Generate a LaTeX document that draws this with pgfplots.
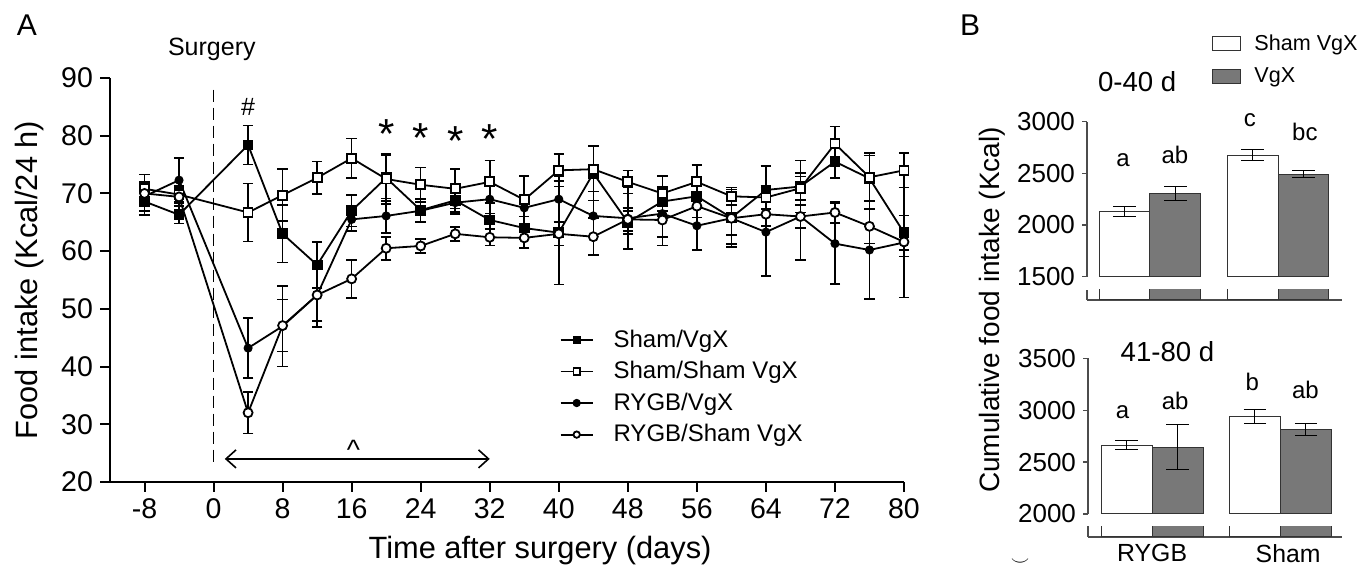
\documentclass[border=0pt]{standalone}
\usepackage{fontspec}
\setmainfont{Liberation Sans}
\usepackage{pgfplots}
\pgfplotsset{compat=1.18}
\usetikzlibrary{arrows.meta}

\newcommand{\fs}[1]{\fontsize{#1}{#1}\selectfont}
\definecolor{barg}{RGB}{120,120,120}

\pgfplotsset{
  eb/.style={error bars/y dir=both, error bars/y explicit,
    error bars/error bar style={line width=0.8pt,black},
    error bars/error mark options={rotate=90,mark size=2.6pt,line width=0.8pt,black}},
  ebB/.style={error bars/y dir=both, error bars/y explicit,
    error bars/error bar style={line width=0.5pt,black},
    error bars/error mark options={rotate=90,mark size=5.6pt,line width=0.5pt,black}},
  boxleg/.style={legend image code/.code={\draw[##1] (0pt,-3.5pt) rectangle (14pt,3.5pt);}},
}

\begin{document}
\begin{tikzpicture}
\useasboundingbox (0,0) rectangle (685.5pt,288pt);

% ---------------- panel A ----------------
\begin{axis}[
  at={(55pt,47pt)}, anchor=south west,
  scale only axis, width=397pt, height=202pt,
  xmin=-12, xmax=80, ymin=20, ymax=90,
  axis lines=left, axis line style={-,line width=1pt},
  clip=false,
  xtick={-8,0,8,16,24,32,40,48,56,64,72,80},
  xticklabels={-8,0,8,16,24,32,40,48,56,64,72,80},
  ytick={20,30,40,50,60,70,80,90},
  tick align=outside, major tick length=5pt,
  tick style={line width=1pt,black},
  /pgf/number format/assume math mode=true,
  ticklabel style={font=\fs{14.25}},
  xlabel={Time after surgery (days)},
  every axis x label/.style={at={(axis description cs:0.5416,0)}, anchor=center, yshift=-34.5pt, font=\fs{15.4}},
  legend style={at={(0.566,0.388)}, anchor=north west, draw=none, fill=none,
    font=\fs{12}, row sep=1.6pt, column sep=8pt, inner sep=0pt},
  legend cell align=left,
  legend image code/.code={\draw[mark repeat=2,mark phase=2,#1,mark size=1.6pt] plot coordinates {(0pt,0pt)(8pt,0pt)(16pt,0pt)};},
]
\draw[line width=0.9pt, dash pattern=on 6pt off 3pt] (axis cs:0,88) -- (axis cs:0,23);
\node[font=\fs{12.5}] at (axis cs:-0.2,94.9) {Surgery};
\node[font=\fs{12.5}] at (axis cs:4,85) {\#};
\node[font=\fs{21}] at (axis cs:20,80.3) {*};
\node[font=\fs{21}] at (axis cs:24,79.6) {*};
\node[font=\fs{21}] at (axis cs:28,79.0) {*};
\node[font=\fs{21}] at (axis cs:32,79.4) {*};
\draw[line width=0.8pt, {Straight Barb[length=5pt,width=9pt]}-{Straight Barb[length=5pt,width=9pt]}]
  (axis cs:1.3,24) -- (axis cs:32,24);
\node[font=\fs{14}] at (axis cs:16.2,25.6) {\textasciicircum};

\addplot[black, line width=0.9pt, mark=square*, mark size=2.25pt, mark options={fill=black,solid}, eb]
coordinates {
(-8,68.6) +- (0,2.3) (-4,66.3) +- (0,1.5) (4,78.4) +- (0,3.4) (8,63.0) +- (0,5.0)
(12,57.6) +- (0,4.0) (16,67.0) +- (0,2.7) (20,72.7) +- (0,4.0) (24,67.1) +- (0,2.0)
(28,68.8) +- (0,2.0) (32,65.4) +- (0,3.0) (36,64.0) +- (0,2.0) (40,63.2) +- (0,9.0)
(44,73.5) +- (0,4.7) (48,65.0) +- (0,2.0) (52,68.6) +- (0,2.5) (56,69.5) +- (0,2.0)
(60,65.8) +- (0,3.0) (64,70.6) +- (0,4.2) (68,71.2) +- (0,4.5) (72,75.5) +- (0,2.8)
(76,72.6) +- (0,4.0) (80,63.2) +- (0,3.0)
};
\addlegendentry{Sham/VgX}
\addplot[black, line width=0.9pt, mark=square*, mark size=2.25pt, mark options={fill=white,solid}, eb]
coordinates {
(-8,70.8) +- (0,2.5) (-4,69.8) +- (0,1.5) (4,66.7) +- (0,5.0) (8,69.7) +- (0,4.5)
(12,72.7) +- (0,2.8) (16,76.1) +- (0,3.4) (20,72.5) +- (0,4.3) (24,71.5) +- (0,3.0)
(28,70.8) +- (0,3.4) (32,72.0) +- (0,3.7) (36,68.9) +- (0,4.1) (40,74.0) +- (0,2.8)
(44,74.2) +- (0,3.9) (48,72.0) +- (0,2.0) (52,70.0) +- (0,3.0) (56,72.0) +- (0,2.9)
(60,69.5) +- (0,1.5) (64,69.3) +- (0,2.0) (68,70.9) +- (0,2.0) (72,78.6) +- (0,3.0)
(76,72.8) +- (0,4.2) (80,74.0) +- (0,3.0)
};
\addlegendentry{Sham/Sham VgX}
\addplot[black, line width=0.9pt, mark=*, mark size=1.8pt, mark options={fill=black,solid}, eb]
coordinates {
(-8,69.5) +- (0,2.5) (-4,72.3) +- (0,3.8) (4,43.2) +- (0,5.2) (8,47.0) +- (0,7.0)
(12,52.4) +- (0,5.5) (16,65.5) +- (0,2.0) (20,66.1) +- (0,3.0) (24,67.0) +- (0,2.0)
(28,68.4) +- (0,2.0) (32,69.0) +- (0,2.5) (36,67.5) +- (0,5.5) (40,69.0) +- (0,4.0)
(44,66.1) +- (0,6.8) (48,65.7) +- (0,5.3) (52,66.5) +- (0,4.0) (56,64.4) +- (0,4.2)
(60,65.7) +- (0,4.5) (64,63.3) +- (0,7.6) (68,66.0) +- (0,7.5) (72,61.3) +- (0,7.0)
(76,60.2) +- (0,8.5) (80,61.5) +- (0,9.5)
};
\addlegendentry{RYGB/VgX}
\addplot[black, line width=0.9pt, mark=*, mark size=2.25pt, mark options={fill=white,solid}, eb]
coordinates {
(-8,70.0) +- (0,2.0) (-4,69.4) +- (0,1.5) (4,32.0) +- (0,3.6) (8,47.1) +- (0,4.5)
(12,52.4) +- (0,4.5) (16,55.2) +- (0,3.3) (20,60.5) +- (0,2.0) (24,60.9) +- (0,1.2)
(28,63.0) +- (0,1.2) (32,62.4) +- (0,1.4) (36,62.3) +- (0,1.8) (40,63.0) +- (0,2.0)
(44,62.5) +- (0,3.2) (48,65.5) +- (0,2.0) (52,65.4) +- (0,4.4) (56,67.8) +- (0,2.0)
(60,65.7) +- (0,5.0) (64,66.4) +- (0,2.0) (68,66.0) +- (0,2.0) (72,66.7) +- (0,1.8)
(76,64.3) +- (0,3.0) (80,61.6) +- (0,2.5)
};
\addlegendentry{RYGB/Sham VgX}
\end{axis}

% ---------------- panel B, top ----------------
\begin{axis}[
  at={(543.5pt,149.65pt)}, anchor=south west,
  scale only axis, width=127.5pt, height=77.5pt,
  xmin=-0.492, xmax=1.5, ymin=1500, ymax=3000,
  axis y line=left, y axis line style={-,line width=0.6pt,black!70},
  hide x axis,
  ytick={1500,2000,2500,3000},
  tick align=outside, major tick length=2.5pt,
  tick style={line width=0.6pt,black!70},
  scaled y ticks=false, /pgf/number format/1000 sep={},
  /pgf/number format/assume math mode=true,
  ticklabel style={font=\fs{13}},
  ybar, bar width=0.398,
  clip mode=individual,
  legend style={at={(0.49,1.59)}, anchor=north west, draw=none, fill=none,
    font=\fs{10.8}, row sep=3pt, column sep=4.5pt, inner sep=0pt},
  legend cell align=left,
]
\addplot[fill=white, draw=black!80, line width=0.5pt, bar shift=-0.199, ebB, boxleg]
coordinates {(0,2130) +- (0,48) (1,2675) +- (0,52)};
\addlegendentry{Sham VgX}
\addplot[fill=barg, draw=black!80, line width=0.5pt, bar shift=0.199, ebB, boxleg]
coordinates {(0,2307) +- (0,65) (1,2491) +- (0,35)};
\addlegendentry{VgX}
\node[font=\fs{13.8}, anchor=base] at (axis cs:-0.1,3290) {0-40 d};
\node[font=\fs{12}, anchor=base] at (axis cs:-0.21,2565) {a};
\node[font=\fs{12}, anchor=base] at (axis cs:0.195,2591) {ab};
\node[font=\fs{12}, anchor=base] at (axis cs:0.78,2952) {c};
\node[font=\fs{12}, anchor=base] at (axis cs:1.21,2816) {bc};
\end{axis}

% stub under top panel
\begin{axis}[
  at={(543.5pt,138pt)}, anchor=south west,
  scale only axis, width=127.5pt, height=5pt,
  xmin=-0.492, xmax=1.5, ymin=0, ymax=1,
  axis lines=left, axis line style={-,line width=0.6pt,black!70},
  xtick=\empty, ytick=\empty,
  ybar, bar width=0.398,
]
\addplot[fill=white, draw=black!80, line width=0.5pt, bar shift=-0.199] coordinates {(0,2) (1,2)};
\addplot[fill=barg, draw=black!80, line width=0.5pt, bar shift=0.199] coordinates {(0,2) (1,2)};
\end{axis}

% ---------------- panel B, bottom ----------------
\begin{axis}[
  at={(544pt,31pt)}, anchor=south west,
  scale only axis, width=127pt, height=77.85pt,
  xmin=-0.5, xmax=1.48, ymin=2000, ymax=3500,
  axis y line=left, y axis line style={-,line width=0.6pt,black!70},
  hide x axis,
  ytick={2000,2500,3000,3500},
  tick align=outside, major tick length=2.5pt,
  tick style={line width=0.6pt,black!70},
  scaled y ticks=false, /pgf/number format/1000 sep={},
  /pgf/number format/assume math mode=true,
  ticklabel style={font=\fs{13}},
  ybar, bar width=0.398,
  clip mode=individual,
]
\addplot[fill=white, draw=black!80, line width=0.5pt, bar shift=-0.199, ebB]
coordinates {(0,2662) +- (0,45) (1,2937) +- (0,65)};
\addplot[fill=barg, draw=black!80, line width=0.5pt, bar shift=0.199, ebB]
coordinates {(0,2643) +- (0,215) (1,2816) +- (0,58)};
\node[font=\fs{13.8}, anchor=base] at (axis cs:0.12,3467) {41-80 d};
\node[font=\fs{12}, anchor=base] at (axis cs:-0.23,2922) {a};
\node[font=\fs{12}, anchor=base] at (axis cs:0.18,3002) {ab};
\node[font=\fs{12}, anchor=base] at (axis cs:0.78,3185) {b};
\node[font=\fs{12}, anchor=base] at (axis cs:1.195,3108) {ab};
\end{axis}

% stub under bottom panel
\begin{axis}[
  at={(544pt,19.5pt)}, anchor=south west,
  scale only axis, width=127pt, height=5.3pt,
  xmin=-0.5, xmax=1.48, ymin=0, ymax=1,
  axis lines=left, axis line style={-,line width=0.6pt,black!70},
  xtick={0,1.06}, xticklabels={RYGB,Sham}, major tick length=0pt,
  ticklabel style={font=\fs{12.4}},
  ytick=\empty,
  ybar, bar width=0.398,
]
\addplot[fill=white, draw=black!80, line width=0.5pt, bar shift=-0.199] coordinates {(0,2) (1,2)};
\addplot[fill=barg, draw=black!80, line width=0.5pt, bar shift=0.199] coordinates {(0,2) (1,2)};
\end{axis}

% labels
\node[font=\fs{15}] at (13.5pt,275.5pt) {A};
\node[font=\fs{15}] at (485pt,275.5pt) {B};
\node[font=\fs{15.4}, rotate=90] at (15pt,148pt) {Food intake (Kcal/24 h)};
\node[font=\fs{14}, rotate=90] at (496pt,133pt) {Cumulative food intake (Kcal)};
\node[font=\fs{9}] at (510pt,7pt) {$\smile$};
\end{tikzpicture}
\end{document}
